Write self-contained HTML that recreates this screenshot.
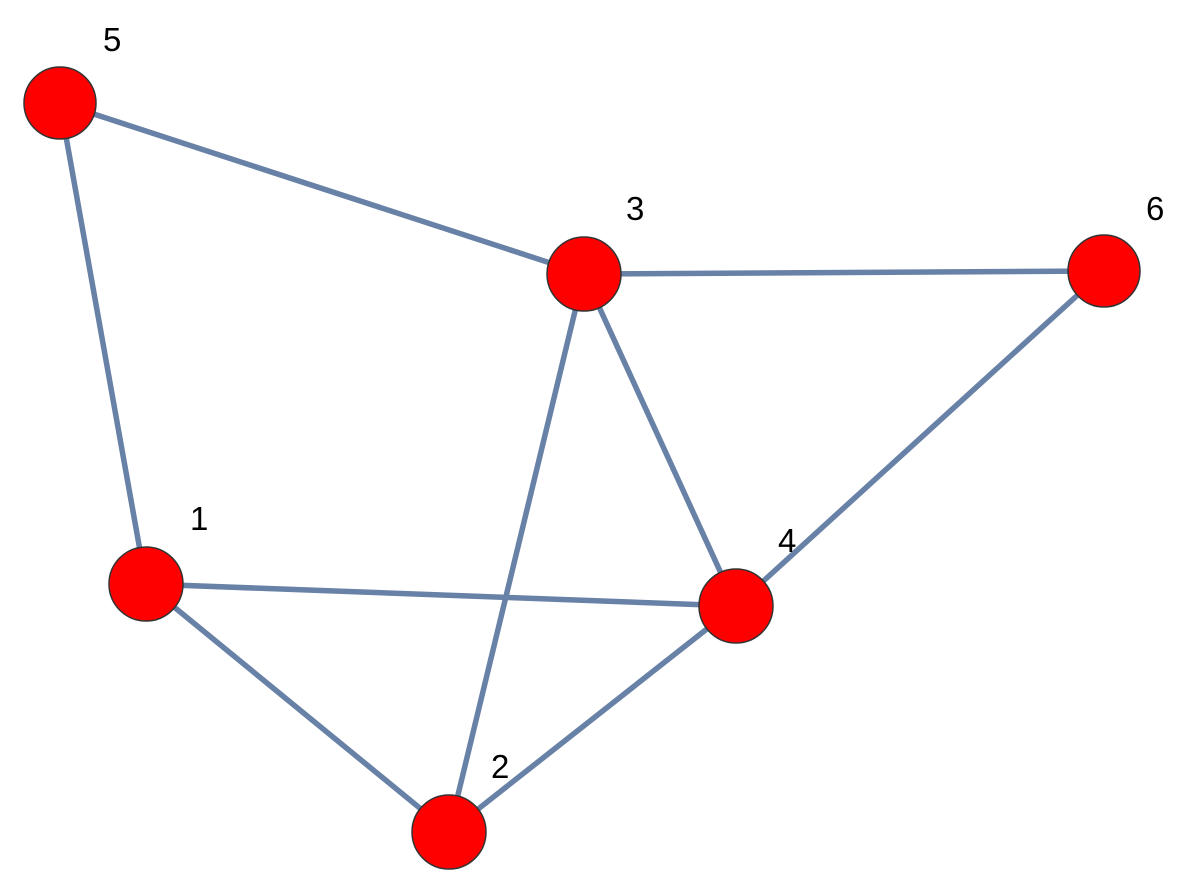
<!DOCTYPE html>
<html><head><style>
html,body{margin:0;padding:0;background:#fff;}
svg{display:block;}
text{font-family:"Liberation Sans",sans-serif;font-size:33px;fill:#000;}
</style></head><body>
<svg width="1181" height="875" viewBox="0 0 1181 875">
<g stroke="#6881a6" stroke-width="5.5" stroke-linecap="round">
<line x1="60" y1="103" x2="584" y2="274"/>
<line x1="60" y1="103" x2="146" y2="584"/>
<line x1="584" y1="274" x2="1104" y2="271"/>
<line x1="584" y1="274" x2="449" y2="832"/>
<line x1="584" y1="274" x2="736" y2="606"/>
<line x1="1104" y1="271" x2="736" y2="606"/>
<line x1="146" y1="584" x2="736" y2="606"/>
<line x1="146" y1="584" x2="449" y2="832"/>
<line x1="449" y1="832" x2="736" y2="606"/>
</g>
<g fill="#ff0000" stroke="#333" stroke-width="1.5">
<circle cx="60" cy="103" r="36"/>
<circle cx="584" cy="274" r="37"/>
<circle cx="1104" cy="271" r="36"/>
<circle cx="146" cy="584" r="37"/>
<circle cx="736" cy="606" r="37"/>
<circle cx="449" cy="832" r="37"/>
</g>
<text x="103" y="51">5</text>
<text x="626" y="220">3</text>
<text x="1146" y="220">6</text>
<text x="190" y="530">1</text>
<text x="778" y="552">4</text>
<text x="491" y="778">2</text>
</svg>
</body></html>
